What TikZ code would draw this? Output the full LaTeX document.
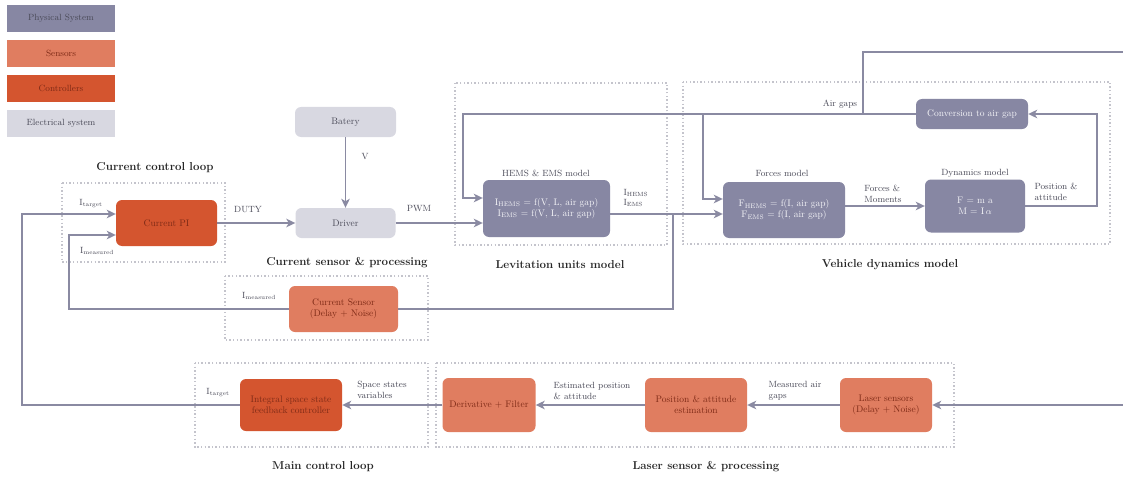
\documentclass[tikz,border=0pt]{standalone}
\usepackage{tikz}
\usetikzlibrary{arrows.meta}

\definecolor{physical}{HTML}{8787A3}
\definecolor{sensor}{HTML}{E07D60}
\definecolor{control}{HTML}{D4552F}
\definecolor{electric}{HTML}{D8D8E1}
\definecolor{wire}{HTML}{8A8AA2}
\definecolor{dots}{HTML}{C4C4CC}
\definecolor{darktext}{HTML}{4A4A58}
\definecolor{redtext}{HTML}{7E2A16}

\begin{document}
\begin{tikzpicture}[x=1pt,y=-1pt,>={Stealth[length=9pt,width=8.5pt,inset=2.5pt]},
	font=\fontsize{9}{10.5}\selectfont]
	\tikzstyle{key}=[minimum width=108pt,minimum height=27pt]
	\tikzstyle{block}=[rounded corners=6pt,align=center,font=\fontsize{9.5}{11}\selectfont]
	\tikzstyle{phys}=[block,fill=physical,text=white!92!physical]
	\tikzstyle{sens}=[block,fill=sensor,text=redtext]
	\tikzstyle{ctrl}=[block,fill=control,text=redtext]
	\tikzstyle{elec}=[block,fill=electric,text=darktext]
	\tikzstyle{group}=[draw=dots,line width=1.4pt,dash pattern=on 1.4pt off 2.2pt]
	\tikzstyle{title}=[font=\bfseries\fontsize{11.5}{13}\selectfont,text=black!85]
	\tikzstyle{lbl}=[text=darktext,align=left]
	\tikzstyle{line}=[draw=wire,line width=1.6pt]
	\tikzstyle{wire}=[line,->]

	\fill[white] (0,0) rectangle (1123,476);
	\useasboundingbox (0,0) rectangle (1123,476);

	% legend
	\node[key,fill=physical,text=darktext] (keyphys) at (61,18.5) {Physical System};
	\node[key,fill=sensor,text=redtext]    (keysens) at (61,53.5) {Sensors};
	\node[key,fill=control,text=redtext]   (keyctrl) at (61,88.5) {Controllers};
	\node[key,fill=electric,text=darktext] (keyelec) at (61,123.5) {Electrical system};

	% dotted groups and their titles
	\draw[group] (62,183) rectangle (225,262);
	\draw[group] (455,83) rectangle (667,245);
	\draw[group] (683,82) rectangle (1110,244);
	\draw[group] (225,276) rectangle (428,340);
	\draw[group] (195,363) rectangle (428,447);
	\draw[group] (436,363) rectangle (954,447);
	\node[title] at (155,168) {Current control loop};
	\node[title] at (560,265) {Levitation units model};
	\node[title] at (890,265) {Vehicle dynamics model};
	\node[title] at (347,263) {Current sensor \& processing};
	\node[title] at (323,467) {Main control loop};
	\node[title] at (706,467) {Laser sensor \& processing};

	% blocks
	\node[ctrl,minimum width=101pt,minimum height=46pt] (pi)      at (166.5,223) {Current PI};
	\node[elec,minimum width=101pt,minimum height=30pt] (batery)  at (345.5,122) {Batery};
	\node[elec,minimum width=100pt,minimum height=30pt] (driver)  at (345.5,223) {Driver};
	\node[phys,minimum width=127pt,minimum height=57pt] (hems)    at (546.5,208.5)
		{I\textsubscript{HEMS} = f(V, L, air gap)\\I\textsubscript{EMS} = f(V, L, air gap)};
	\node[phys,minimum width=122pt,minimum height=56pt] (forces)  at (784,210)
		{F\textsubscript{HEMS} = f(I, air gap)\\F\textsubscript{EMS} = f(I, air gap)};
	\node[phys,minimum width=100pt,minimum height=53pt] (dyn)     at (975,206) {F = m a\\M = I\,$\alpha$};
	\node[phys,minimum width=112pt,minimum height=30pt] (conv)    at (972,114) {Conversion to air gap};
	\node[sens,minimum width=109pt,minimum height=46pt] (cursens) at (343.5,309) {Current Sensor\\(Delay + Noise)};
	\node[ctrl,minimum width=102pt,minimum height=52pt] (integ)   at (291,405)
		{Integral space state\\feedback controller};
	\node[sens,minimum width=93pt,minimum height=54pt]  (deriv)   at (489,405) {Derivative + Filter};
	\node[sens,minimum width=102pt,minimum height=54pt] (posest)  at (696,405) {Position \& attitude\\estimation};
	\node[sens,minimum width=92pt,minimum height=54pt]  (laser)   at (886,405) {Laser sensors\\(Delay + Noise)};

	\node[lbl] at (546,173) {HEMS \& EMS model};
	\node[lbl] at (782,173) {Forces model};
	\node[lbl] at (975,173) {Dynamics model};

	% branch points
	\coordinate (itap)     at (673,214);
	\coordinate (gapsplit) at (703,114);
	\coordinate (gapup)    at (863,114);

	% current loop
	\draw[wire] (pi) -- (driver);
	\draw[wire] (batery) -- (driver);
	\draw[wire] (driver.east) -- ([yshift=-14.5pt]hems.west);
	\draw[wire] ([yshift=-5.5pt]hems.east) -- ([yshift=-4pt]forces.west);
	\draw[line] (itap) |- (cursens.east);
	\draw[wire] (cursens.west) -- (69,309) |- ([yshift=-12pt]pi.west);

	% vehicle dynamics and air gaps
	\draw[wire] ([yshift=4pt]forces.east) -- (dyn.west);
	\draw[wire] (dyn.east) -- (1097,206) |- (conv.east);
	\draw[wire] (conv.west) -- (463,114) |- ([yshift=10.5pt]hems.west);
	\draw[wire] (gapsplit) |- ([yshift=11pt]forces.west);
	\draw[wire] (gapup) -- (863,52) -- (1130,52) -- (1130,405) -- (laser.east);

	% main loop
	\draw[wire] (laser) -- (posest);
	\draw[wire] (posest) -- (deriv);
	\draw[wire] (deriv) -- (integ);
	\draw[wire] (integ.west) -- (22,405) |- ([yshift=9pt]pi.west);

	% signal labels
	\node[lbl] at (91,204) {I\textsubscript{target}};
	\node[lbl] at (97,251) {I\textsubscript{measured}};
	\node[lbl] at (259,296) {I\textsubscript{measured}};
	\node[lbl] at (218,393) {I\textsubscript{target}};
	\node[lbl] at (248,210) {DUTY};
	\node[lbl] at (365,157) {V};
	\node[lbl] at (419,209) {PWM};
	\node[lbl,anchor=west] at (620,198) {I\textsubscript{HEMS}\\I\textsubscript{EMS}};
	\node[lbl] at (840,104) {Air gaps};
	\node[lbl] at (883,194) {Forces \&\\Moments};
	\node[lbl,anchor=west] at (1031,192) {Position \&\\attitude};
	\node[lbl] at (382,390) {Space states\\variables};
	\node[lbl] at (592,391) {Estimated position\\\& attitude};
	\node[lbl] at (795,391) {Measured air\\gaps};
\end{tikzpicture}
\end{document}
